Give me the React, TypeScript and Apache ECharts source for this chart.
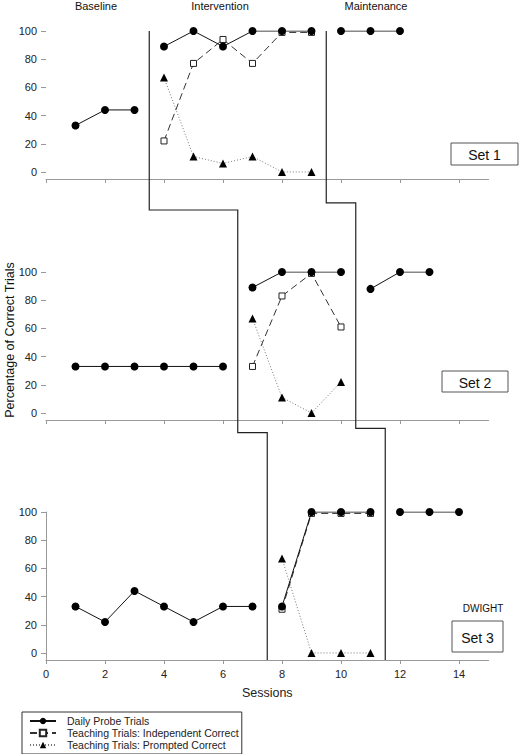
import React, { useEffect, useRef } from "react";
import * as echarts from "echarts";

const sessionTicks = [0, 2, 4, 6, 8, 10, 12, 14];
const percentTicks = [0, 20, 40, 60, 80, 100];
const phaseLabels = ["Baseline", "Intervention", "Maintenance"];
const legendNames = [
  "Daily Probe Trials",
  "Teaching Trials: Independent Correct",
  "Teaching Trials: Prompted Correct",
];
const setLabels = ["Set 1", "Set 2", "Set 3"];
const participant = "DWIGHT";

// Set 1
const set1ProbeX = [1, 2, 3, 4, 5, 6, 7, 8, 9, 10, 11, 12];
const set1Probe = [33, 44, 44, 89, 100, 89, 100, 100, 100, 100, 100, 100];
const set1TeachX = [4, 5, 6, 7, 8, 9];
const set1Independent = [22, 77, 94, 77, 99, 99];
const set1Prompted = [67, 11, 6, 11, 0, 0];

// Set 2
const set2ProbeX = [1, 2, 3, 4, 5, 6, 7, 8, 9, 10, 11, 12, 13];
const set2Probe = [33, 33, 33, 33, 33, 33, 89, 100, 100, 100, 88, 100, 100];
const set2TeachX = [7, 8, 9, 10];
const set2Independent = [33, 83, 99, 61];
const set2Prompted = [67, 11, 0, 22];

// Set 3
const set3ProbeX = [1, 2, 3, 4, 5, 6, 7, 8, 9, 10, 11, 12, 13, 14];
const set3Probe = [33, 22, 44, 33, 22, 33, 33, 33, 100, 100, 100, 100, 100, 100];
const set3TeachX = [8, 9, 10, 11];
const set3Independent = [31, 99, 99, 99];
const set3Prompted = [67, 0, 0, 0];

// phase-change sessions per set
const interventionStart = [3.5, 6.5, 7.5];
const maintenanceStart = [9.5, 10.5, 11.5];

const FONT = 'Arial, "Liberation Sans", Helvetica, sans-serif';

function splitPhases(xs: number[], ys: number[], b0: number, b1: number) {
  const segs: number[][][] = [[], [], []];
  xs.forEach((x, i) => {
    const k = x < b0 ? 0 : x < b1 ? 1 : 2;
    segs[k].push([x, ys[i]]);
  });
  return segs.filter((s) => s.length > 0);
}

export default function App() {
  const ref = useRef<HTMLDivElement>(null);

  useEffect(() => {
    if (!ref.current) return;
    const chart = echarts.init(ref.current, undefined, { renderer: "svg" });

    const panels = [
      { px: set1ProbeX, p: set1Probe, tx: set1TeachX, ind: set1Independent, pr: set1Prompted },
      { px: set2ProbeX, p: set2Probe, tx: set2TeachX, ind: set2Independent, pr: set2Prompted },
      { px: set3ProbeX, p: set3Probe, tx: set3TeachX, ind: set3Independent, pr: set3Prompted },
    ];
    const tops = [31, 272, 512];
    const gridH = 148;

    const series: any[] = [];
    panels.forEach((pn, g) => {
      const b0 = interventionStart[g];
      const b1 = maintenanceStart[g];
      splitPhases(pn.px, pn.p, b0, b1).forEach((seg) =>
        series.push({
          type: "line",
          name: legendNames[0],
          xAxisIndex: g,
          yAxisIndex: g,
          data: seg,
          symbol: "circle",
          symbolSize: 8,
          itemStyle: { color: "#000" },
          lineStyle: { color: "#111", width: 1 },
          z: 5,
        })
      );
      splitPhases(pn.tx, pn.ind, b0, b1).forEach((seg) =>
        series.push({
          type: "line",
          name: legendNames[1],
          xAxisIndex: g,
          yAxisIndex: g,
          data: seg,
          symbol: "rect",
          symbolSize: 6,
          itemStyle: { color: "#fff", borderColor: "#222", borderWidth: 1 },
          lineStyle: { color: "#333", width: 1, type: [7, 4] },
          z: 4,
        })
      );
      splitPhases(pn.tx, pn.pr, b0, b1).forEach((seg) =>
        series.push({
          type: "line",
          name: legendNames[2],
          xAxisIndex: g,
          yAxisIndex: g,
          data: seg,
          symbol: "triangle",
          symbolSize: 8,
          itemStyle: { color: "#000" },
          lineStyle: { color: "#777", width: 1, type: [1, 2] },
          z: 3,
        })
      );
    });

    const grids = tops.map((t) => ({
      left: 46,
      right: 31.5,
      top: t,
      height: gridH,
      containLabel: false,
      outerBoundsMode: "none",
    }));

    const xAxes = tops.map((_, g) => ({
      type: "value",
      gridIndex: g,
      min: 0,
      max: 15,
      axisLine: { show: true, onZero: false, lineStyle: { color: "#999", width: 1 } },
      axisTick: { show: true, customValues: sessionTicks, length: 4, lineStyle: { color: "#999" } },
      axisLabel: {
        show: g === 2,
        customValues: sessionTicks,
        fontSize: 11,
        color: "#222",
        fontFamily: FONT,
        margin: 8,
      },
      splitLine: { show: false },
      name: g === 2 ? "Sessions" : "",
      nameLocation: "middle",
      nameGap: 26,
      nameTextStyle: { fontSize: 12.5, color: "#222", fontFamily: FONT },
    }));

    const yAxes = tops.map((_, g) => ({
      type: "value",
      gridIndex: g,
      min: -5,
      max: 100,
      axisLine: { show: g === 2, onZero: false, lineStyle: { color: "#999", width: 1 } },
      axisTick: { show: true, customValues: percentTicks, length: 5, lineStyle: { color: "#999" } },
      axisLabel: {
        customValues: percentTicks,
        fontSize: 11,
        color: "#222",
        fontFamily: FONT,
        margin: 9,
      },
      splitLine: { show: false },
    }));

    chart.setOption({
      animation: false,
      backgroundColor: "#fff",
      textStyle: { fontFamily: FONT },
      grid: grids,
      xAxis: xAxes,
      yAxis: yAxes,
      legend: {
        orient: "vertical",
        left: 22,
        top: 712,
        data: legendNames,
        itemWidth: 26,
        itemHeight: 8,
        itemGap: 0,
        padding: [3, 3, 3, 7],
        borderColor: "#333",
        borderWidth: 1,
        selectedMode: false,
        textStyle: { fontSize: 10.5, color: "#222", fontFamily: FONT, lineHeight: 12, padding: [0, 0, 0, 6] },
      },
      series,
    });

    const pt = (g: number, x: number, y: number) =>
      chart.convertToPixel({ xAxisIndex: g, yAxisIndex: g } as any, [x, y]) as number[];

    const stair = (p: number[], s: number[]) => [
      pt(0, p[0], 100),
      pt(0, p[0], s[0]),
      pt(0, p[1], s[0]),
      pt(1, p[1], s[1]),
      pt(1, p[2], s[1]),
      pt(2, p[2], -5),
    ];

    const phaseLine1 = stair(interventionStart, [-27, -14]);
    const phaseLine2 = stair(maintenanceStart, [-22, -11]);

    const textStyle = (fs: number) => ({
      fill: "#111",
      fontSize: fs,
      fontFamily: FONT,
      align: "center",
      verticalAlign: "middle",
    });

    const boxes = [
      { x: 451, y: 143, w: 67, h: 22 },
      { x: 442, y: 371, w: 66, h: 21 },
      { x: 452, y: 621, w: 51, h: 31 },
    ];

    chart.setOption({
      graphic: [
        { type: "polyline", shape: { points: phaseLine1 }, style: { stroke: "#222", lineWidth: 1.2, fill: null }, z: 10 },
        { type: "polyline", shape: { points: phaseLine2 }, style: { stroke: "#222", lineWidth: 1.2, fill: null }, z: 10 },
        { type: "text", x: 96, y: 6, style: { ...textStyle(11), text: phaseLabels[0] } },
        { type: "text", x: 220, y: 6, style: { ...textStyle(11), text: phaseLabels[1] } },
        { type: "text", x: 376, y: 6, style: { ...textStyle(11), text: phaseLabels[2] } },
        ...boxes.map((b, i) => ({
          type: "group",
          children: [
            { type: "rect", shape: { x: b.x, y: b.y, width: b.w, height: b.h }, style: { fill: "#fff", stroke: "#555", lineWidth: 1 } },
            { type: "text", x: b.x + b.w / 2, y: b.y + b.h / 2 + 1, style: { ...textStyle(14), text: setLabels[i] } },
          ],
        })),
        { type: "text", x: 483, y: 608, style: { ...textStyle(10), text: participant } },
        {
          type: "text",
          x: 10,
          y: 340,
          rotation: Math.PI / 2,
          style: { ...textStyle(12.5), text: "Percentage of Correct Trials" },
        },
      ],
    });

    return () => chart.dispose();
  }, []);

  return (
    <div
      ref={ref}
      style={{ position: "absolute", left: 0, top: 0, width: 520, height: 754 }}
    />
  );
}
